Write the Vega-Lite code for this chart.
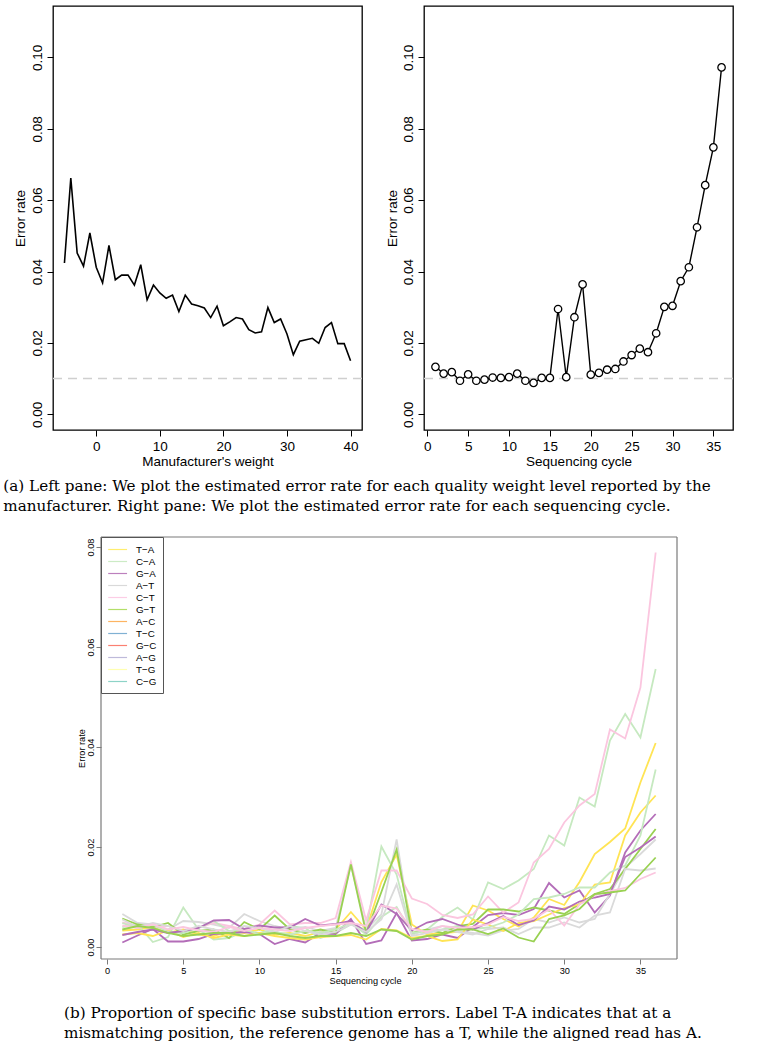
{
  "$schema": "https://vega.github.io/schema/vega-lite/v6.json",
  "padding": {"left": 0, "top": 5, "right": 0, "bottom": 0},
  "background": "white",
  "config": {
    "view": {"stroke": null},
    "font": "Liberation Sans",
    "axis": {"grid": false, "domain": false, "tickColor": "black", "labelColor": "black", "titleColor": "black", "titleFontWeight": "normal", "labelFont": "Liberation Sans", "titleFont": "Liberation Sans", "labelFlush": false, "labelOverlap": false},
    "title": {"font": "DejaVu Serif", "fontWeight": "normal", "fontSize": 15.2, "color": "black", "lineHeight": 20}
  },
  "datasets": {
    "weight": [
      {"w": -5, "r": 0.0424}, {"w": -4, "r": 0.0662}, {"w": -3, "r": 0.0452}, {"w": -2, "r": 0.0415}, {"w": -1, "r": 0.0508},
      {"w": 0, "r": 0.0412}, {"w": 1, "r": 0.0368}, {"w": 2, "r": 0.0473}, {"w": 3, "r": 0.0377}, {"w": 4, "r": 0.0390},
      {"w": 5, "r": 0.0390}, {"w": 6, "r": 0.0362}, {"w": 7, "r": 0.0419}, {"w": 8, "r": 0.0321}, {"w": 9, "r": 0.0362},
      {"w": 10, "r": 0.0340}, {"w": 11, "r": 0.0325}, {"w": 12, "r": 0.0334}, {"w": 13, "r": 0.0288}, {"w": 14, "r": 0.0334},
      {"w": 15, "r": 0.0309}, {"w": 16, "r": 0.0304}, {"w": 17, "r": 0.0298}, {"w": 18, "r": 0.0271}, {"w": 19, "r": 0.0303},
      {"w": 20, "r": 0.0248}, {"w": 21, "r": 0.0259}, {"w": 22, "r": 0.0271}, {"w": 23, "r": 0.0267}, {"w": 24, "r": 0.0237},
      {"w": 25, "r": 0.0228}, {"w": 26, "r": 0.0231}, {"w": 27, "r": 0.0299}, {"w": 28, "r": 0.0257}, {"w": 29, "r": 0.0267},
      {"w": 30, "r": 0.0225}, {"w": 31, "r": 0.0167}, {"w": 32, "r": 0.0205}, {"w": 33, "r": 0.0209}, {"w": 34, "r": 0.0213},
      {"w": 35, "r": 0.0199}, {"w": 36, "r": 0.0243}, {"w": 37, "r": 0.0257}, {"w": 38, "r": 0.0198}, {"w": 39, "r": 0.0198},
      {"w": 40, "r": 0.0150}
    ],
    "cycle": [
      {"c": 1, "r": 0.0133}, {"c": 2, "r": 0.0114}, {"c": 3, "r": 0.0118}, {"c": 4, "r": 0.0094}, {"c": 5, "r": 0.0112},
      {"c": 6, "r": 0.0094}, {"c": 7, "r": 0.0097}, {"c": 8, "r": 0.0103}, {"c": 9, "r": 0.0102}, {"c": 10, "r": 0.0104},
      {"c": 11, "r": 0.0114}, {"c": 12, "r": 0.0094}, {"c": 13, "r": 0.0088}, {"c": 14, "r": 0.0102}, {"c": 15, "r": 0.0102},
      {"c": 16, "r": 0.0295}, {"c": 17, "r": 0.0104}, {"c": 18, "r": 0.0272}, {"c": 19, "r": 0.0364}, {"c": 20, "r": 0.0111},
      {"c": 21, "r": 0.0116}, {"c": 22, "r": 0.0125}, {"c": 23, "r": 0.0127}, {"c": 24, "r": 0.0148}, {"c": 25, "r": 0.0166},
      {"c": 26, "r": 0.0184}, {"c": 27, "r": 0.0174}, {"c": 28, "r": 0.0227}, {"c": 29, "r": 0.0301}, {"c": 30, "r": 0.0304},
      {"c": 31, "r": 0.0373}, {"c": 32, "r": 0.0412}, {"c": 33, "r": 0.0524}, {"c": 34, "r": 0.0642}, {"c": 35, "r": 0.0748},
      {"c": 36, "r": 0.0972}
    ],
    "subs": [
      {"c": 1, "T-A": 0.0033, "C-A": 0.0040, "G-A": 0.0009, "A-T": 0.0066, "C-T": 0.0049, "G-T": 0.0057, "A-C": 0.0025, "T-C": 0.0048, "G-C": 0.0024, "A-G": 0.0055, "T-G": 0.0043, "C-G": 0.0035},
      {"c": 2, "T-A": 0.0035, "C-A": 0.0045, "G-A": 0.0023, "A-T": 0.0048, "C-T": 0.0042, "G-T": 0.0045, "A-C": 0.0028, "T-C": 0.0038, "G-C": 0.0030, "A-G": 0.0040, "T-G": 0.0038, "C-G": 0.0042},
      {"c": 3, "T-A": 0.0040, "C-A": 0.0010, "G-A": 0.0036, "A-T": 0.0045, "C-T": 0.0038, "G-T": 0.0040, "A-C": 0.0022, "T-C": 0.0045, "G-C": 0.0035, "A-G": 0.0048, "T-G": 0.0045, "C-G": 0.0038},
      {"c": 4, "T-A": 0.0028, "C-A": 0.0020, "G-A": 0.0011, "A-T": 0.0035, "C-T": 0.0042, "G-T": 0.0048, "A-C": 0.0033, "T-C": 0.0030, "G-C": 0.0028, "A-G": 0.0042, "T-G": 0.0035, "C-G": 0.0028},
      {"c": 5, "T-A": 0.0035, "C-A": 0.0079, "G-A": 0.0011, "A-T": 0.0052, "C-T": 0.0032, "G-T": 0.0025, "A-C": 0.0020, "T-C": 0.0028, "G-C": 0.0032, "A-G": 0.0032, "T-G": 0.0040, "C-G": 0.0022},
      {"c": 6, "T-A": 0.0025, "C-A": 0.0035, "G-A": 0.0016, "A-T": 0.0050, "C-T": 0.0038, "G-T": 0.0032, "A-C": 0.0028, "T-C": 0.0038, "G-C": 0.0038, "A-G": 0.0042, "T-G": 0.0033, "C-G": 0.0025},
      {"c": 7, "T-A": 0.0022, "C-A": 0.0015, "G-A": 0.0026, "A-T": 0.0045, "C-T": 0.0048, "G-T": 0.0035, "A-C": 0.0018, "T-C": 0.0052, "G-C": 0.0053, "A-G": 0.0035, "T-G": 0.0030, "C-G": 0.0028},
      {"c": 8, "T-A": 0.0032, "C-A": 0.0018, "G-A": 0.0028, "A-T": 0.0038, "C-T": 0.0042, "G-T": 0.0018, "A-C": 0.0025, "T-C": 0.0032, "G-C": 0.0054, "A-G": 0.0030, "T-G": 0.0040, "C-G": 0.0028},
      {"c": 9, "T-A": 0.0028, "C-A": 0.0032, "G-A": 0.0030, "A-T": 0.0066, "C-T": 0.0035, "G-T": 0.0050, "A-C": 0.0022, "T-C": 0.0035, "G-C": 0.0036, "A-G": 0.0042, "T-G": 0.0032, "C-G": 0.0022},
      {"c": 10, "T-A": 0.0035, "C-A": 0.0028, "G-A": 0.0026, "A-T": 0.0052, "C-T": 0.0045, "G-T": 0.0035, "A-C": 0.0028, "T-C": 0.0025, "G-C": 0.0043, "A-G": 0.0038, "T-G": 0.0038, "C-G": 0.0025},
      {"c": 11, "T-A": 0.0025, "C-A": 0.0035, "G-A": 0.0006, "A-T": 0.0042, "C-T": 0.0073, "G-T": 0.0063, "A-C": 0.0022, "T-C": 0.0030, "G-C": 0.0039, "A-G": 0.0030, "T-G": 0.0035, "C-G": 0.0028},
      {"c": 12, "T-A": 0.0028, "C-A": 0.0042, "G-A": 0.0016, "A-T": 0.0035, "C-T": 0.0045, "G-T": 0.0035, "A-C": 0.0018, "T-C": 0.0025, "G-C": 0.0039, "A-G": 0.0042, "T-G": 0.0032, "C-G": 0.0022},
      {"c": 13, "T-A": 0.0022, "C-A": 0.0038, "G-A": 0.0009, "A-T": 0.0040, "C-T": 0.0048, "G-T": 0.0028, "A-C": 0.0015, "T-C": 0.0032, "G-C": 0.0056, "A-G": 0.0032, "T-G": 0.0038, "C-G": 0.0018},
      {"c": 14, "T-A": 0.0030, "C-A": 0.0018, "G-A": 0.0028, "A-T": 0.0032, "C-T": 0.0048, "G-T": 0.0035, "A-C": 0.0020, "T-C": 0.0028, "G-C": 0.0043, "A-G": 0.0025, "T-G": 0.0042, "C-G": 0.0022},
      {"c": 15, "T-A": 0.0035, "C-A": 0.0028, "G-A": 0.0026, "A-T": 0.0038, "C-T": 0.0058, "G-T": 0.0028, "A-C": 0.0022, "T-C": 0.0035, "G-C": 0.0046, "A-G": 0.0030, "T-G": 0.0045, "C-G": 0.0022},
      {"c": 16, "T-A": 0.0070, "C-A": 0.0045, "G-A": 0.0056, "A-T": 0.0165, "C-T": 0.0170, "G-T": 0.0165, "A-C": 0.0024, "T-C": 0.0048, "G-C": 0.0052, "A-G": 0.0045, "T-G": 0.0048, "C-G": 0.0028},
      {"c": 17, "T-A": 0.0035, "C-A": 0.0035, "G-A": 0.0006, "A-T": 0.0035, "C-T": 0.0053, "G-T": 0.0028, "A-C": 0.0015, "T-C": 0.0025, "G-C": 0.0029, "A-G": 0.0030, "T-G": 0.0042, "C-G": 0.0022},
      {"c": 18, "T-A": 0.0130, "C-A": 0.0201, "G-A": 0.0013, "A-T": 0.0065, "C-T": 0.0153, "G-T": 0.0110, "A-C": 0.0036, "T-C": 0.0060, "G-C": 0.0085, "A-G": 0.0055, "T-G": 0.0083, "C-G": 0.0035},
      {"c": 19, "T-A": 0.0185, "C-A": 0.0145, "G-A": 0.0068, "A-T": 0.0215, "C-T": 0.0153, "G-T": 0.0195, "A-C": 0.0033, "T-C": 0.0080, "G-C": 0.0066, "A-G": 0.0125, "T-G": 0.0077, "C-G": 0.0032},
      {"c": 20, "T-A": 0.0045, "C-A": 0.0025, "G-A": 0.0013, "A-T": 0.0025, "C-T": 0.0097, "G-T": 0.0028, "A-C": 0.0018, "T-C": 0.0028, "G-C": 0.0033, "A-G": 0.0022, "T-G": 0.0036, "C-G": 0.0015},
      {"c": 21, "T-A": 0.0025, "C-A": 0.0035, "G-A": 0.0016, "A-T": 0.0035, "C-T": 0.0086, "G-T": 0.0035, "A-C": 0.0022, "T-C": 0.0032, "G-C": 0.0049, "A-G": 0.0028, "T-G": 0.0030, "C-G": 0.0022},
      {"c": 22, "T-A": 0.0028, "C-A": 0.0060, "G-A": 0.0025, "A-T": 0.0042, "C-T": 0.0064, "G-T": 0.0028, "A-C": 0.0012, "T-C": 0.0035, "G-C": 0.0056, "A-G": 0.0035, "T-G": 0.0042, "C-G": 0.0025},
      {"c": 23, "T-A": 0.0030, "C-A": 0.0079, "G-A": 0.0018, "A-T": 0.0032, "C-T": 0.0058, "G-T": 0.0042, "A-C": 0.0015, "T-C": 0.0042, "G-C": 0.0045, "A-G": 0.0030, "T-G": 0.0038, "C-G": 0.0035},
      {"c": 24, "T-A": 0.0083, "C-A": 0.0055, "G-A": 0.0040, "A-T": 0.0028, "C-T": 0.0065, "G-T": 0.0046, "A-C": 0.0055, "T-C": 0.0036, "G-C": 0.0035, "A-G": 0.0025, "T-G": 0.0040, "C-G": 0.0035},
      {"c": 25, "T-A": 0.0073, "C-A": 0.0129, "G-A": 0.0064, "A-T": 0.0023, "C-T": 0.0101, "G-T": 0.0075, "A-C": 0.0045, "T-C": 0.0039, "G-C": 0.0048, "A-G": 0.0036, "T-G": 0.0045, "C-G": 0.0026},
      {"c": 26, "T-A": 0.0056, "C-A": 0.0116, "G-A": 0.0068, "A-T": 0.0033, "C-T": 0.0069, "G-T": 0.0075, "A-C": 0.0032, "T-C": 0.0049, "G-C": 0.0062, "A-G": 0.0039, "T-G": 0.0060, "C-G": 0.0037},
      {"c": 27, "T-A": 0.0041, "C-A": 0.0133, "G-A": 0.0064, "A-T": 0.0036, "C-T": 0.0089, "G-T": 0.0071, "A-C": 0.0048, "T-C": 0.0065, "G-C": 0.0044, "A-G": 0.0026, "T-G": 0.0052, "C-G": 0.0019},
      {"c": 28, "T-A": 0.0059, "C-A": 0.0156, "G-A": 0.0076, "A-T": 0.0056, "C-T": 0.0169, "G-T": 0.0079, "A-C": 0.0052, "T-C": 0.0096, "G-C": 0.0053, "A-G": 0.0039, "T-G": 0.0056, "C-G": 0.0011},
      {"c": 29, "T-A": 0.0096, "C-A": 0.0223, "G-A": 0.0128, "A-T": 0.0049, "C-T": 0.0196, "G-T": 0.0073, "A-C": 0.0065, "T-C": 0.0099, "G-C": 0.0081, "A-G": 0.0039, "T-G": 0.0075, "C-G": 0.0056},
      {"c": 30, "T-A": 0.0084, "C-A": 0.0203, "G-A": 0.0099, "A-T": 0.0059, "C-T": 0.0249, "G-T": 0.0066, "A-C": 0.0078, "T-C": 0.0106, "G-C": 0.0075, "A-G": 0.0049, "T-G": 0.0043, "C-G": 0.0063},
      {"c": 31, "T-A": 0.0130, "C-A": 0.0299, "G-A": 0.0113, "A-T": 0.0049, "C-T": 0.0283, "G-T": 0.0086, "A-C": 0.0085, "T-C": 0.0119, "G-C": 0.0091, "A-G": 0.0039, "T-G": 0.0085, "C-G": 0.0076},
      {"c": 32, "T-A": 0.0186, "C-A": 0.0281, "G-A": 0.0069, "A-T": 0.0056, "C-T": 0.0306, "G-T": 0.0106, "A-C": 0.0125, "T-C": 0.0119, "G-C": 0.0099, "A-G": 0.0063, "T-G": 0.0103, "C-G": 0.0106},
      {"c": 33, "T-A": 0.0210, "C-A": 0.0413, "G-A": 0.0103, "A-T": 0.0106, "C-T": 0.0435, "G-T": 0.0116, "A-C": 0.0129, "T-C": 0.0149, "G-C": 0.0106, "A-G": 0.0069, "T-G": 0.0112, "C-G": 0.0109},
      {"c": 34, "T-A": 0.0237, "C-A": 0.0466, "G-A": 0.0189, "A-T": 0.0159, "C-T": 0.0417, "G-T": 0.0156, "A-C": 0.0223, "T-C": 0.0163, "G-C": 0.0180, "A-G": 0.0156, "T-G": 0.0118, "C-G": 0.0113},
      {"c": 35, "T-A": 0.0329, "C-A": 0.0419, "G-A": 0.0233, "A-T": 0.0186, "C-T": 0.0519, "G-T": 0.0196, "A-C": 0.0269, "T-C": 0.0223, "G-C": 0.0199, "A-G": 0.0153, "T-G": 0.0136, "C-G": 0.0146},
      {"c": 36, "T-A": 0.0408, "C-A": 0.0556, "G-A": 0.0266, "A-T": 0.0215, "C-T": 0.0789, "G-T": 0.0236, "A-C": 0.0303, "T-C": 0.0355, "G-C": 0.0221, "A-G": 0.0157, "T-G": 0.0149, "C-G": 0.0179}
    ]
  },
  "spacing": 22,
  "resolve": {"scale": {"color": "independent", "stroke": "independent"}, "legend": {"color": "independent", "stroke": "independent"}},
  "vconcat": [
    {
      "title": {
        "text": ["(a) Left pane: We plot the estimated error rate for each quality weight level reported by the", "manufacturer. Right pane: We plot the estimated error rate for each sequencing cycle."],
        "orient": "bottom", "anchor": "start", "frame": "bounds", "dx": 3, "offset": 10
      },
      "spacing": 19,
      "hconcat": [
        {
          "width": 309, "height": 424,
          "view": {"stroke": "black", "strokeWidth": 1.3},
          "layer": [
            {
              "data": {"name": "weight"},
              "mark": {"type": "line", "color": "black", "strokeWidth": 1.6},
              "encoding": {
                "x": {"field": "w", "type": "quantitative", "scale": {"domain": [-6.8, 41.8], "nice": false, "zero": false},
                      "axis": {"title": "Manufacturer's weight", "values": [0, 10, 20, 30, 40], "tickSize": 6, "labelFontSize": 13.5, "titleFontSize": 13.5, "labelPadding": 3, "titlePadding": 2}},
                "y": {"field": "r", "type": "quantitative", "scale": {"domain": [-0.0044, 0.1144], "nice": false, "zero": false},
                      "axis": {"title": "Error rate", "values": [0, 0.02, 0.04, 0.06, 0.08, 0.1], "format": ".2f", "labelAngle": 270, "tickSize": 6, "labelFontSize": 13.5, "titleFontSize": 13.5, "labelPadding": 3, "minExtent": 52, "titleX": -29, "titleBaseline": "alphabetic"}}
              }
            },
            {
              "data": {"values": [{}]},
              "mark": {"type": "rule", "color": "#cfcfcf", "strokeWidth": 1.5, "strokeDash": [9, 6]},
              "encoding": {"y": {"datum": 0.01}}
            }
          ]
        },
        {
          "width": 309, "height": 424,
          "view": {"stroke": "black", "strokeWidth": 1.3},
          "layer": [
            {
              "data": {"values": [{}]},
              "mark": {"type": "rule", "color": "#cfcfcf", "strokeWidth": 1.5, "strokeDash": [9, 6]},
              "encoding": {"y": {"datum": 0.01}}
            },
            {
              "data": {"name": "cycle"},
              "mark": {"type": "line", "color": "black", "strokeWidth": 1.4},
              "encoding": {
                "x": {"field": "c", "type": "quantitative", "scale": {"domain": [-0.4, 37.4], "nice": false, "zero": false},
                      "axis": {"title": "Sequencing cycle", "values": [0, 5, 10, 15, 20, 25, 30, 35], "tickSize": 6, "labelFontSize": 13.5, "titleFontSize": 13.5, "labelPadding": 3, "titlePadding": 2}},
                "y": {"field": "r", "type": "quantitative", "scale": {"domain": [-0.0044, 0.1144], "nice": false, "zero": false},
                      "axis": {"title": "Error rate", "values": [0, 0.02, 0.04, 0.06, 0.08, 0.1], "format": ".2f", "labelAngle": 270, "tickSize": 6, "labelFontSize": 13.5, "titleFontSize": 13.5, "labelPadding": 3, "minExtent": 40, "titleX": -28, "titleBaseline": "alphabetic"}}
              }
            },
            {
              "data": {"name": "cycle"},
              "mark": {"type": "point", "shape": "circle", "filled": false, "fill": "white", "fillOpacity": 1, "stroke": "black", "strokeWidth": 1.3, "size": 55, "opacity": 1},
              "encoding": {
                "x": {"field": "c", "type": "quantitative"},
                "y": {"field": "r", "type": "quantitative"}
              }
            }
          ]
        }
      ]
    },
    {
      "width": 624, "height": 422,
      "view": {"stroke": null},
      "title": {
        "text": ["(b) Proportion of specific base substitution errors. Label T-A indicates that at a", "mismatching position, the reference genome has a T, while the aligned read has A."],
        "orient": "bottom", "anchor": "start", "frame": "group", "dx": 11, "offset": 21
      },
      "layer": [
        {
          "data": {"name": "subs"},
          "transform": [{"fold": ["T-A", "C-A", "G-A", "A-T", "C-T", "G-T", "A-C", "T-C", "G-C", "A-G", "T-G", "C-G"], "as": ["sub", "rate"]}],
          "mark": {"type": "line", "strokeWidth": 1.8},
          "encoding": {
            "x": {"field": "c", "type": "quantitative", "scale": {"domain": [-3.55, 37.4], "nice": false, "zero": false},
                  "axis": {"title": "Sequencing cycle", "values": [0, 5, 10, 15, 20, 25, 30, 35], "tickSize": 5, "tickColor": "#7a7a7a", "labelFontSize": 9.2, "titleFontSize": 9.2, "labelPadding": 2, "titlePadding": 1}},
            "y": {"field": "rate", "type": "quantitative", "scale": {"domain": [-0.0024, 0.082], "nice": false, "zero": false},
                  "axis": {"title": "Error rate", "values": [0, 0.02, 0.04, 0.06, 0.08], "format": ".2f", "labelAngle": 270, "tickSize": 5, "tickColor": "#7a7a7a", "labelFontSize": 9.2, "titleFontSize": 9.2, "labelPadding": 0.5, "offset": -48, "titleX": -17, "titleBaseline": "alphabetic"}},
            "stroke": {"field": "sub", "type": "nominal", "legend": null,
                       "scale": {"domain": ["A-C", "T-C", "G-C", "A-G", "T-G", "C-G", "T-A", "C-A", "G-A", "A-T", "C-T", "G-T"],
                                 "range": ["#FFE454", "#C6E9C0", "#B36DB8", "#DADADA", "#FBC6DF", "#99D152", "#FFE454", "#C6E9C0", "#B36DB8", "#DADADA", "#FBC6DF", "#99D152"]}}
          }
        },
        {
          "data": {"name": "subs"},
          "transform": [{"fold": ["T-A", "C-A", "G-A", "A-T", "C-T", "G-T", "A-C", "T-C", "G-C", "A-G", "T-G", "C-G"], "as": ["sub", "rate"]}, {"filter": "false"}],
          "mark": {"type": "line", "strokeWidth": 1.2},
          "encoding": {
            "x": {"field": "c", "type": "quantitative"},
            "y": {"field": "rate", "type": "quantitative"},
            "color": {"field": "sub", "type": "nominal",
                      "scale": {"domain": ["T-A", "C-A", "G-A", "A-T", "C-T", "G-T", "A-C", "T-C", "G-C", "A-G", "T-G", "C-G"],
                                "range": ["#FFED6F", "#CCEBC5", "#BC80BD", "#D9D9D9", "#FCCDE5", "#B3DE69", "#FDB462", "#80B1D3", "#FB8072", "#BEBADA", "#FFFFB3", "#8DD3C7"]},
                      "legend": {"title": null, "orient": "none", "legendX": 48, "legendY": 0, "padding": 6, "strokeColor": "#555555", "fillColor": "white",
                                 "symbolType": "M-0.9,0H2.3", "symbolSize": 139, "symbolStrokeWidth": 1.2, "symbolOpacity": 1,
                                 "labelFontSize": 9.8, "labelFont": "Liberation Sans", "labelColor": "black", "rowPadding": 0, "labelOffset": 16,
                                 "labelExpr": "replace(datum.label, '-', '\u2212')"}}
          }
        },
        {
          "data": {"values": [{}]},
          "mark": {"type": "rule", "color": "#7a7a7a", "strokeWidth": 1.2},
          "encoding": {"x": {"datum": -0.4}, "y": {"datum": -0.0024}, "y2": {"datum": 0.082}}
        },
        {
          "data": {"values": [{}]},
          "mark": {"type": "rule", "color": "#7a7a7a", "strokeWidth": 1.2},
          "encoding": {"x": {"datum": 37.4}, "y": {"datum": -0.0024}, "y2": {"datum": 0.082}}
        },
        {
          "data": {"values": [{}]},
          "mark": {"type": "rule", "color": "#7a7a7a", "strokeWidth": 1.2},
          "encoding": {"y": {"datum": 0.082}, "x": {"datum": -0.4}, "x2": {"datum": 37.4}}
        },
        {
          "data": {"values": [{}]},
          "mark": {"type": "rule", "color": "#7a7a7a", "strokeWidth": 1.2},
          "encoding": {"y": {"datum": -0.0024}, "x": {"datum": -0.4}, "x2": {"datum": 37.4}}
        }
      ]
    }
  ]
}
